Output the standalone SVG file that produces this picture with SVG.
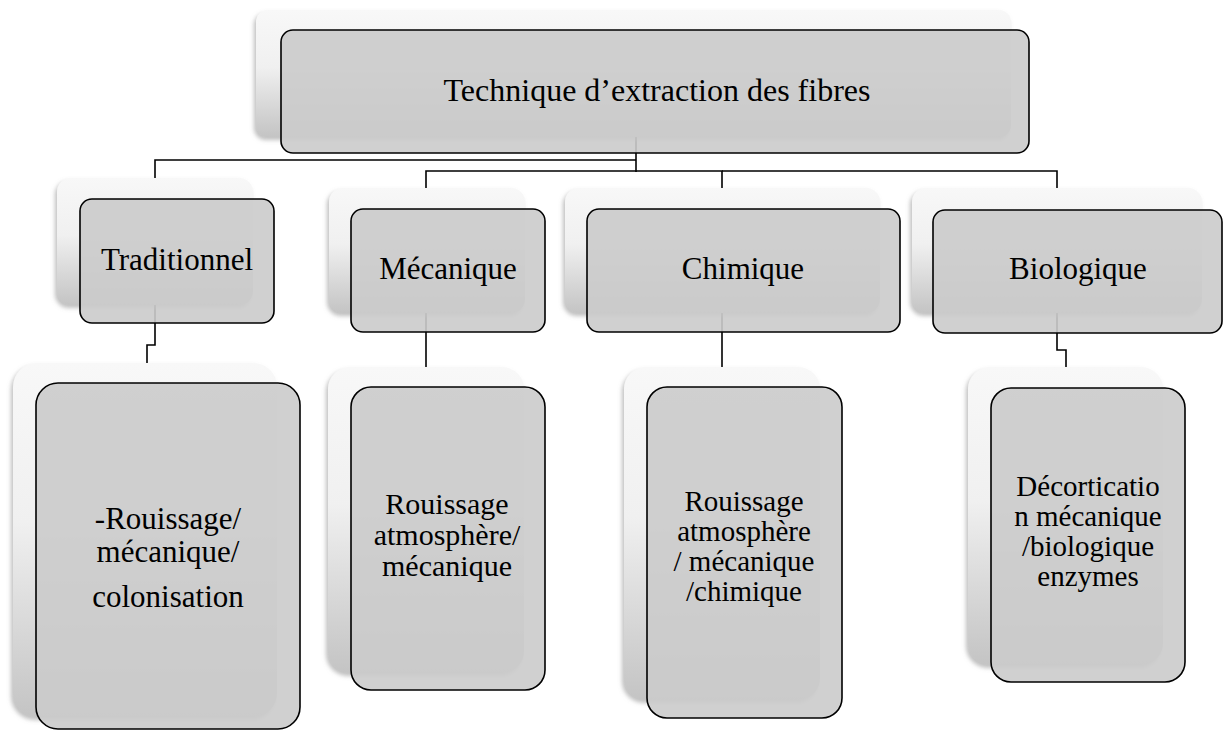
<svg xmlns="http://www.w3.org/2000/svg" width="1224" height="731" viewBox="0 0 1224 731">
<defs>
  <linearGradient id="shadeGrad" x1="0" y1="0" x2="0" y2="1">
    <stop offset="0" stop-color="#f8f8f8"/>
    <stop offset="0.45" stop-color="#f0f0f0"/>
    <stop offset="1" stop-color="#c4c4c4"/>
  </linearGradient>
  <filter id="soft" x="-10%" y="-10%" width="120%" height="120%">
    <feDropShadow dx="-2" dy="3" stdDeviation="2" flood-color="#8a8a8a" flood-opacity="0.55"/>
  </filter>
</defs>
<style>
  .shade { fill: url(#shadeGrad); filter: url(#soft); }
  .box { fill: #cbcbcb; fill-opacity: 0.9; stroke: #000; stroke-width: 1.6; }
  .conn { fill: none; stroke: #000; stroke-width: 1.6; }
  .t { font-family: 'Liberation Serif', 'Times New Roman', Times, serif; font-size: 31px; fill: #000; text-anchor: middle; }
  .d { font-size: 29px; }
  .m { font-size: 30px; }
</style>
<rect width="1224" height="731" fill="#ffffff"/>

<g id="connectors">
  <path class="conn" d="M636 134 V172"/>
  <path class="conn" d="M636 160 H155 V179"/>
  <path class="conn" d="M636 171 H426 V188"/>
  <path class="conn" d="M636 171 H722 V188"/>
  <path class="conn" d="M722 171 H1057 V188"/>
  <path class="conn" d="M155 305 V345 H147 V363"/>
  <path class="conn" d="M426 313 V367"/>
  <path class="conn" d="M722 313 V367"/>
  <path class="conn" d="M1057 313 V350 H1066 V367"/>
</g>

<g id="node-root">
  <rect class="shade" x="256" y="10" width="755" height="127" rx="12"/>
  <rect class="box" x="281" y="30" width="748" height="123" rx="12"/>
  <text class="t" x="657" y="101" font-family="Liberation Serif, serif" style="font-size:32px">Technique d’extraction des fibres</text>
</g>

<g id="node-traditionnel">
  <rect class="shade" x="57" y="178" width="196" height="127" rx="14"/>
  <rect class="box" x="80" y="199" width="194" height="124" rx="12"/>
  <text class="t" x="177" y="270" font-family="Liberation Serif, serif">Traditionnel</text>
</g>

<g id="node-mecanique">
  <rect class="shade" x="329" y="188" width="196" height="125" rx="14"/>
  <rect class="box" x="351" y="209" width="194" height="123" rx="12"/>
  <text class="t" x="448" y="279" font-family="Liberation Serif, serif">Mécanique</text>
</g>

<g id="node-chimique">
  <rect class="shade" x="565" y="188" width="315" height="125" rx="14"/>
  <rect class="box" x="587" y="209" width="313" height="123" rx="12"/>
  <text class="t" x="743" y="279" font-family="Liberation Serif, serif">Chimique</text>
</g>

<g id="node-biologique">
  <rect class="shade" x="912" y="188" width="290" height="125" rx="14"/>
  <rect class="box" x="933" y="210" width="289" height="123" rx="12"/>
  <text class="t" x="1078" y="279" font-family="Liberation Serif, serif">Biologique</text>
</g>

<g id="node-traditionnel-detail">
  <rect class="shade" x="13" y="363" width="264" height="354" rx="24"/>
  <rect class="box" x="36" y="383" width="264" height="346" rx="22"/>
  <text class="t" x="168" y="529" font-family="Liberation Serif, serif">-Rouissage/</text>
  <text class="t" x="168" y="562" font-family="Liberation Serif, serif">mécanique/</text>
  <text class="t" x="168" y="607" font-family="Liberation Serif, serif">colonisation</text>
</g>

<g id="node-mecanique-detail">
  <rect class="shade" x="328" y="367" width="196" height="306" rx="22"/>
  <rect class="box" x="351" y="387" width="194" height="303" rx="20"/>
  <text class="t m" x="447" y="514" font-family="Liberation Serif, serif">Rouissage</text>
  <text class="t m" x="447" y="545" font-family="Liberation Serif, serif">atmosphère/</text>
  <text class="t m" x="447" y="576" font-family="Liberation Serif, serif">mécanique</text>
</g>

<g id="node-chimique-detail">
  <rect class="shade" x="624" y="367" width="196" height="333" rx="22"/>
  <rect class="box" x="647" y="387" width="195" height="331" rx="20"/>
  <text class="t d" x="744" y="511" font-family="Liberation Serif, serif">Rouissage</text>
  <text class="t d" x="744" y="541" font-family="Liberation Serif, serif">atmosphère</text>
  <text class="t d" x="744" y="571" font-family="Liberation Serif, serif">/ mécanique</text>
  <text class="t d" x="744" y="601" font-family="Liberation Serif, serif">/chimique</text>
</g>

<g id="node-biologique-detail">
  <rect class="shade" x="968" y="367" width="195" height="298" rx="22"/>
  <rect class="box" x="991" y="388" width="194" height="294" rx="20"/>
  <text class="t d" x="1088" y="496" font-family="Liberation Serif, serif">Décorticatio</text>
  <text class="t d" x="1088" y="526" font-family="Liberation Serif, serif">n mécanique</text>
  <text class="t d" x="1088" y="556" font-family="Liberation Serif, serif">/biologique</text>
  <text class="t d" x="1088" y="586" font-family="Liberation Serif, serif">enzymes</text>
</g>
</svg>
